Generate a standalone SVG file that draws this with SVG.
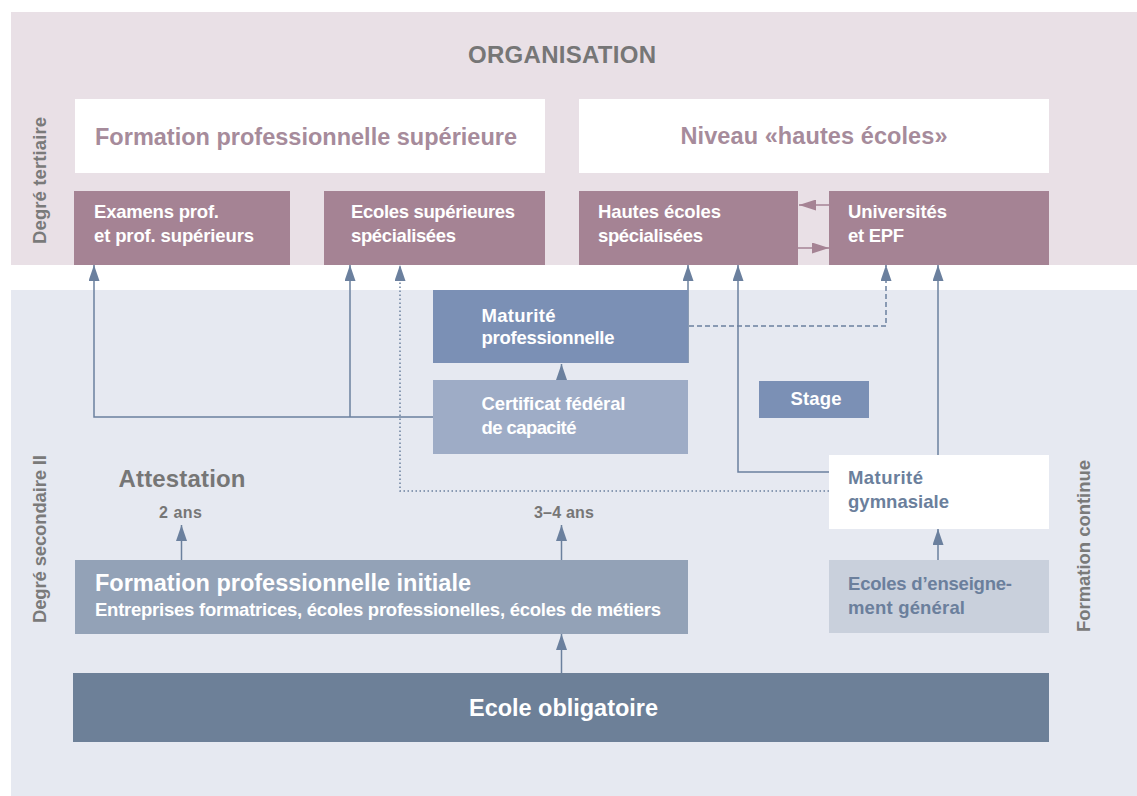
<svg xmlns="http://www.w3.org/2000/svg" width="1137" height="796" viewBox="0 0 1137 796">
<defs>
<style>
text{font-family:"Liberation Sans",Arial,sans-serif;font-weight:bold}
.bgp{fill:#e9e0e6}
.bgb{fill:#e6e9f1}
.white{fill:#ffffff}
.pink{fill:#a58394}
.mp{fill:#7b90b5}
.cfc{fill:#9eacc6}
.fpi{fill:#93a2b7}
.eo{fill:#6d8098}
.eeg{fill:#c9d0dc}
.t-w{fill:#ffffff;font-size:18.5px}
.t-big{fill:#ffffff;font-size:23.5px}
.t-gray{fill:#767676}
.t-pk{fill:#a68b9b;font-size:23.5px}
.t-bl{fill:#6b7f9c;font-size:18.5px}
.side{fill:#7a7a7a;font-size:18.5px}
.c{fill:none;stroke:#6b809e;stroke-width:1.5}
.cp{fill:none;stroke:#a58394;stroke-width:1.5}
.dot{stroke-dasharray:1.5 2.5}
.dash{stroke-dasharray:5 3}
</style>
<marker id="ah" markerUnits="userSpaceOnUse" markerWidth="16" markerHeight="11" refX="16" refY="5.5" orient="auto" viewBox="0 0 16 11">
<path d="M0,0 L16,5.5 L0,11 Z" fill="#6b809e"/>
</marker>
<marker id="ahp" markerUnits="userSpaceOnUse" markerWidth="17" markerHeight="11" refX="17" refY="5.5" orient="auto" viewBox="0 0 17 11">
<path d="M0,0 L17,5.5 L0,11 Z" fill="#a58394"/>
</marker>
</defs>

<g id="backgrounds">
<rect class="bgp" x="11" y="12" width="1126" height="253"/>
<rect class="bgb" x="11" y="290" width="1126" height="506"/>
<text class="t-gray" x="562" y="63" font-size="24" text-anchor="middle" textLength="188">ORGANISATION</text>
<text class="side" transform="translate(46,180.5) rotate(-90)" text-anchor="middle" textLength="127">Degré tertiaire</text>
<text class="side" transform="translate(46,539) rotate(-90)" text-anchor="middle" textLength="168">Degré secondaire II</text>
<text class="side" transform="translate(1090,546) rotate(-90)" text-anchor="middle" textLength="172">Formation continue</text>
</g>

<g id="connectors">
<path class="c" d="M433,417 H94 V265" marker-end="url(#ah)"/>
<path class="c" d="M350,417 V265" marker-end="url(#ah)"/>
<path class="c dot" d="M829,491 H400 V265" marker-end="url(#ah)"/>
<path class="c" d="M688,363 V265" marker-end="url(#ah)"/>
<path class="c dash" d="M689,326 H886 V265" marker-end="url(#ah)"/>
<path class="c" d="M829,472 H738 V265" marker-end="url(#ah)"/>
<path class="c" d="M938,455 V265" marker-end="url(#ah)"/>
<path class="c" d="M938,560 V529" marker-end="url(#ah)"/>
<path class="c" d="M561.5,380 V364" marker-end="url(#ah)"/>
<path class="c" d="M181.5,560 V525" marker-end="url(#ah)"/>
<path class="c" d="M561.5,560 V525" marker-end="url(#ah)"/>
<path class="c" d="M561.5,673 V634" marker-end="url(#ah)"/>
<path class="cp" d="M829,205 H799" marker-end="url(#ahp)"/>
<path class="cp" d="M798,248 H829" marker-end="url(#ahp)"/>
</g>

<g id="fps-header">
<rect class="white" x="75" y="99" width="470" height="74"/>
<text class="t-pk" x="95" y="145" textLength="422">Formation professionnelle supérieure</text>
</g>
<g id="he-header">
<rect class="white" x="579" y="99" width="470" height="74"/>
<text class="t-pk" x="814" y="144" text-anchor="middle" textLength="267">Niveau «hautes écoles»</text>
</g>

<g id="examens">
<rect class="pink" x="74" y="191" width="216" height="74"/>
<text class="t-w" x="94" y="218" textLength="125">Examens prof.</text>
<text class="t-w" x="94" y="242" textLength="160">et prof. supérieurs</text>
</g>
<g id="ecoles-sup">
<rect class="pink" x="324" y="191" width="221" height="74"/>
<text class="t-w" x="351" y="218" textLength="164">Ecoles supérieures</text>
<text class="t-w" x="351" y="242" textLength="105">spécialisées</text>
</g>
<g id="hes">
<rect class="pink" x="579" y="191" width="219" height="74"/>
<text class="t-w" x="598" y="218" textLength="123">Hautes écoles</text>
<text class="t-w" x="598" y="242" textLength="105">spécialisées</text>
</g>
<g id="universites">
<rect class="pink" x="829" y="191" width="220" height="74"/>
<text class="t-w" x="848" y="218" textLength="99">Universités</text>
<text class="t-w" x="848" y="242" textLength="56">et EPF</text>
</g>

<g id="maturite-pro">
<rect class="mp" x="433" y="290" width="255" height="73"/>
<text class="t-w" x="481.5" y="321.5" textLength="74">Maturité</text>
<text class="t-w" x="481.5" y="344" textLength="133">professionnelle</text>
</g>
<g id="cfc">
<rect class="cfc" x="433" y="380" width="255" height="74"/>
<text class="t-w" x="481.5" y="410" textLength="144">Certificat fédéral</text>
<text class="t-w" x="481.5" y="433.5" textLength="95">de capacité</text>
</g>
<g id="stage">
<rect class="mp" x="759" y="381" width="110" height="37"/>
<text class="t-w" x="816" y="405" text-anchor="middle" textLength="51">Stage</text>
</g>
<g id="maturite-gym">
<rect class="white" x="829" y="455" width="220" height="74"/>
<text class="t-bl" x="848" y="484" textLength="75">Maturité</text>
<text class="t-bl" x="848" y="507.5" textLength="101">gymnasiale</text>
</g>
<g id="attestation">
<text class="t-gray" x="118.5" y="486.5" font-size="24" textLength="127">Attestation</text>
<text class="t-gray" x="180.5" y="517.5" font-size="16" text-anchor="middle" textLength="43">2 ans</text>
</g>
<g id="duree-cfc">
<text class="t-gray" x="564" y="517.5" font-size="16" text-anchor="middle" textLength="60">3–4 ans</text>
</g>
<g id="fpi">
<rect class="fpi" x="75" y="560" width="613" height="74"/>
<text class="t-big" x="95" y="591" textLength="376">Formation professionnelle initiale</text>
<text class="t-w" x="95" y="616" font-size="17.5" textLength="566">Entreprises formatrices, écoles professionelles, écoles de métiers</text>
</g>
<g id="eeg">
<rect class="eeg" x="829" y="560" width="220" height="73"/>
<text class="t-bl" x="848" y="589.5" textLength="164">Ecoles d’enseigne-</text>
<text class="t-bl" x="848" y="613.5" textLength="117">ment général</text>
</g>
<g id="ecole-obligatoire">
<rect class="eo" x="73" y="673" width="976" height="69"/>
<text class="t-big" x="563.5" y="716" text-anchor="middle" textLength="189">Ecole obligatoire</text>
</g>
</svg>
